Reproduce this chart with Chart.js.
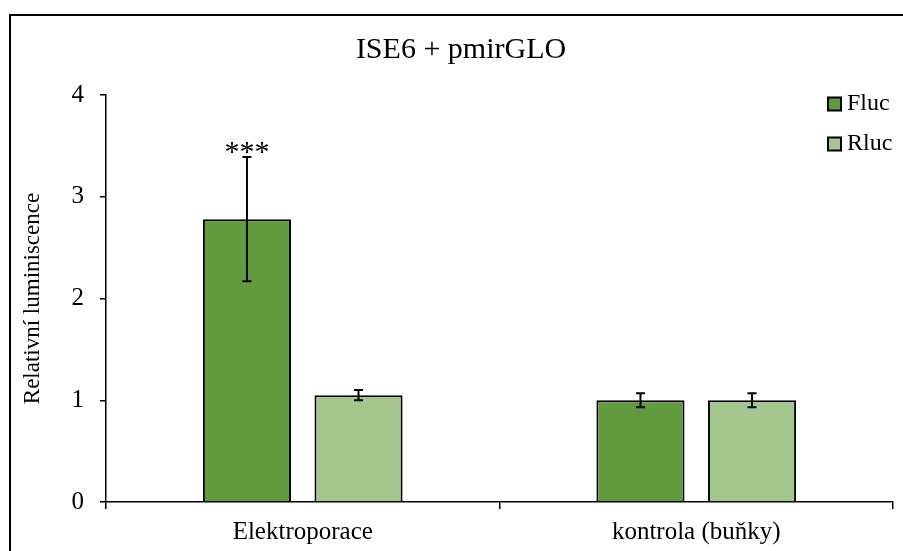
<!DOCTYPE html>
<html><head><meta charset="utf-8">
<script src="https://cdn.jsdelivr.net/npm/chart.js@4"></script>
<style>html,body{margin:0;padding:0;background:#fff}#wrap{position:relative;width:903px;height:551px}</style>
</head><body><div id="wrap"><canvas id="c" width="903" height="551"></canvas></div>
<script>
const categories = ['Elektroporace', 'kontrola (buňky)'];
const seriesNames = ['Fluc', 'Rluc'];
const flucValues = [2.78, 1.00];
const rlucValues = [1.05, 1.00];
const flucErrors = [0.61, 0.07];
const rlucErrors = [0.05, 0.07];
const flucMarks = ['***', ''];
const rlucMarks = ['', ''];
const yTicks = [0, 1, 2, 3, 4];
const chartTitle = 'ISE6 + pmirGLO';
const yTitle = 'Relativní luminiscence';

const FONT = '"Liberation Serif", "Times New Roman", serif';
const colors = ['#629A3F', '#A3C68F'];

const bgPlugin = {
  id: 'bg',
  beforeDraw(chart) {
    const ctx = chart.ctx;
    ctx.save(); ctx.fillStyle = '#fff'; ctx.fillRect(0, 0, chart.width, chart.height); ctx.restore();
  },
  afterDraw(chart) {
    const ctx = chart.ctx;
    ctx.save();
    ctx.strokeStyle = '#000'; ctx.lineWidth = 2;
    ctx.beginPath();
    ctx.moveTo(10, chart.height); ctx.lineTo(10, 15); ctx.lineTo(chart.width, 15);
    ctx.stroke();
    // title
    ctx.fillStyle = '#000';
    ctx.font = '30px ' + FONT;
    ctx.textAlign = 'center'; ctx.textBaseline = 'middle';
    ctx.fillText(chartTitle, 461, 50);
    // legend
    ctx.font = '24px ' + FONT;
    ctx.textAlign = 'left';
    chart.data.datasets.forEach((ds, i) => {
      const cy = 104 + 40 * i;
      ctx.fillStyle = ds.backgroundColor;
      ctx.fillRect(828, cy - 6.5, 13, 13);
      ctx.lineWidth = 2; ctx.strokeStyle = '#000';
      ctx.strokeRect(828, cy - 6.5, 13, 13);
      ctx.fillStyle = '#000';
      ctx.fillText(ds.label, 847, cy);
    });
    ctx.restore();
  }
};

const errPlugin = {
  id: 'errbars',
  afterDatasetsDraw(chart) {
    const ctx = chart.ctx;
    const y = chart.scales.y;
    ctx.save();
    ctx.strokeStyle = '#000'; ctx.lineWidth = 2;
    chart.data.datasets.forEach((ds, i) => {
      const meta = chart.getDatasetMeta(i);
      meta.data.forEach((bar, j) => {
        const v = ds.data[j], e = ds.errors[j];
        const yt = y.getPixelForValue(v + e), yb = y.getPixelForValue(v - e);
        ctx.beginPath();
        ctx.moveTo(bar.x, yt); ctx.lineTo(bar.x, yb);
        ctx.moveTo(bar.x - 4.5, yt); ctx.lineTo(bar.x + 4.5, yt);
        ctx.moveTo(bar.x - 4.5, yb); ctx.lineTo(bar.x + 4.5, yb);
        ctx.stroke();
        if (ds.marks[j]) {
          ctx.fillStyle = '#000';
          ctx.font = '30px ' + FONT;
          ctx.textAlign = 'center'; ctx.textBaseline = 'middle';
          ctx.fillText(ds.marks[j], bar.x, yt - 4);
        }
      });
    });
    ctx.restore();
  }
};

new Chart(document.getElementById('c'), {
  type: 'bar',
  data: {
    labels: categories,
    datasets: [
      { label: seriesNames[0], data: flucValues, errors: flucErrors, marks: flucMarks,
        backgroundColor: colors[0], borderColor: '#000', borderWidth: 2,
        categoryPercentage: 0.567, barPercentage: 0.79 },
      { label: seriesNames[1], data: rlucValues, errors: rlucErrors, marks: rlucMarks,
        backgroundColor: colors[1], borderColor: '#000', borderWidth: 2,
        categoryPercentage: 0.567, barPercentage: 0.79 }
    ]
  },
  options: {
    responsive: false, animation: false, devicePixelRatio: 1,
    layout: { padding: { left: 10, right: 10, top: 95, bottom: 0 } },
    plugins: { legend: { display: false }, title: { display: false }, tooltip: { enabled: false } },
    scales: {
      x: {
        afterFit(s) { s.height = 49; },
        grid: { display: true, drawOnChartArea: false, drawTicks: true, tickLength: 7, color: '#000', lineWidth: 1.5, offset: true },
        border: { color: '#000', width: 1.5 },
        ticks: { color: '#000', font: { family: FONT, size: 25 }, padding: 8, maxRotation: 0 }
      },
      y: {
        min: 0, max: 4,
        afterFit(s) { s.width = 96; },
        afterBuildTicks(s) { s.ticks = yTicks.map(v => ({ value: v })); },
        grid: { display: true, drawOnChartArea: false, drawTicks: true, tickLength: 6, color: '#000', lineWidth: 1.5 },
        border: { color: '#000', width: 1.5 },
        ticks: { color: '#000', font: { family: FONT, size: 25 }, padding: 16 },
        title: { display: true, text: yTitle, color: '#000', font: { family: FONT, size: 23 }, padding: { top: 9, bottom: 0 } }
      }
    }
  },
  plugins: [bgPlugin, errPlugin]
});
</script>
</body></html>
